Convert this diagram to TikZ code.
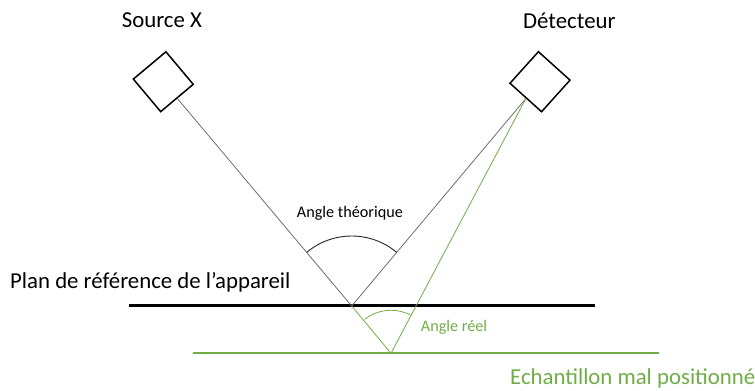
\documentclass[tikz,border=0pt]{standalone}
\usepackage{fontspec}
\setmainfont{Carlito}
\usetikzlibrary{calc}
\definecolor{offgreen}{RGB}{112,173,71}
\definecolor{raygray}{RGB}{110,110,110}
\tikzset{
  boxstyle/.style={draw=black, line width=1.5bp, minimum size=42.5bp, inner sep=0pt, shape=rectangle},
  bigtext/.style={anchor=base west, inner sep=0pt, font=\fontsize{22.8bp}{26bp}\selectfont},
  smalltext/.style={anchor=base west, inner sep=0pt, font=\fontsize{16.2bp}{19bp}\selectfont},
  ray/.style={draw=raygray, line width=0.8bp},
  greenray/.style={draw=offgreen, line width=0.8bp},
  plane/.style={draw=black, line width=2.5bp},
  greenplane/.style={draw=offgreen, line width=2.3bp},
}
\begin{document}
\begin{tikzpicture}[x=1bp,y=-1bp]
\useasboundingbox (0,0) rectangle (755,390);
% boxes
\node[boxstyle, rotate=40] (src) at (163.3,81.7) {};
\node[boxstyle, rotate=48] (det) at (540,81.7) {};
% key points
\coordinate (M) at (351.7,306);
\coordinate (G) at (391,353.3);
\coordinate (P1) at (129.3,305.7);
\coordinate (P2) at (595,305.7);
\coordinate (E1) at (193.3,353.3);
\coordinate (E2) at (659,353.3);
\path (det) -- coordinate[pos=0] (dp) (M);
% planes
\draw[plane] (P1) -- (P2);
\draw[greenplane] (E1) -- (E2);
% rays
\draw[ray] (src) -- (M);
\draw[ray] (dp) -- (M);
\draw[greenray] (M) -- (G);
\draw[greenray] (G) -- (dp);
% angles
\draw[draw=black!85, line width=0.9bp] ($(M)+(-130:70)$) arc[start angle=-130, end angle=-50, radius=70];
\draw[greenray] ($(G)+(-128:43)$) arc[start angle=-128, end angle=-63, radius=43];
% texts
\node[bigtext] (tsrc) at (121.7,27.7) {Source X};
\node[bigtext] (tdet) at (523,28.3) {Détecteur};
\node[smalltext] (tth) at (296.7,217.3) {Angle théorique};
\node[bigtext] (tplan) at (10,288.3) {Plan de référence de l’appareil};
\node[smalltext, text=offgreen] (treel) at (420.7,331.7) {Angle réel};
\node[bigtext, text=offgreen] (tech) at (510,384.3) {Echantillon mal positionné};
\end{tikzpicture}
\end{document}
